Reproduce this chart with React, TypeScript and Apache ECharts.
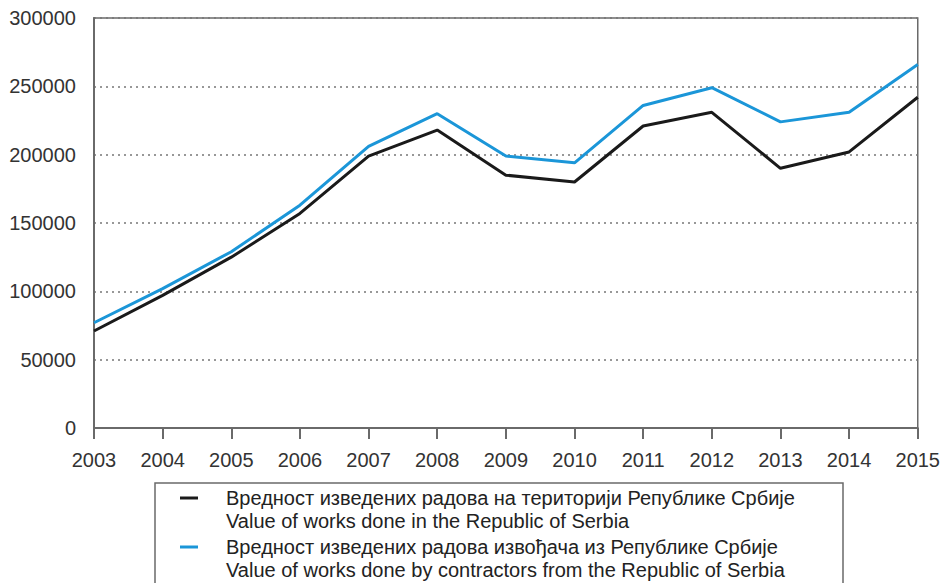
import React, { useEffect, useRef } from "react";
import * as echarts from "echarts";

const years = ["2003","2004","2005","2006","2007","2008","2009","2010","2011","2012","2013","2014","2015"];
const territoryValues = [71000, 97000, 125000, 157000, 199000, 218000, 185000, 180000, 221000, 231000, 190000, 202000, 242000];
const contractorValues = [77000, 102000, 129000, 163000, 206000, 230000, 199000, 194000, 236000, 249000, 224000, 231000, 266000];
const seriesNamesSr = [
  "Вредност изведених радова на територији Републике Србије",
  "Вредност изведених радова извођача из Републике Србије",
];
const seriesNamesEn = [
  "Value of works done in the Republic of Serbia",
  "Value of works done by contractors from the Republic of Serbia",
];
const seriesColors = ["#1a1a1a", "#1b96d8"];

const FONT = "'Liberation Sans', Arial, Helvetica, sans-serif";

export default function App() {
  const ref = useRef<HTMLDivElement>(null);
  useEffect(() => {
    if (!ref.current) return;
    const chart = echarts.init(ref.current, undefined, { renderer: "svg" });
    const legendTexts: any[] = [];
    const lineY = [498, 521, 547, 570];
    [0, 1].forEach((i) => {
      legendTexts.push({
        type: "rect",
        shape: { x: 180, y: lineY[i * 2] - 1.5, width: 18, height: 3 },
        style: { fill: seriesColors[i] },
      });
      legendTexts.push({
        type: "text",
        x: 226,
        y: lineY[i * 2],
        style: { text: seriesNamesSr[i], font: `20px ${FONT}`, fill: "#222", verticalAlign: "middle" },
      });
      legendTexts.push({
        type: "text",
        x: 226,
        y: lineY[i * 2 + 1],
        style: { text: seriesNamesEn[i], font: `20px ${FONT}`, fill: "#222", verticalAlign: "middle" },
      });
    });
    chart.setOption({
      animation: false,
      backgroundColor: "#fff",
      grid: {
        left: 94,
        right: 24,
        top: 18,
        bottom: 155,
        show: true,
        borderColor: "#6a6a6a",
        borderWidth: 1.5,
      },
      xAxis: {
        type: "category",
        data: years,
        boundaryGap: false,
        axisLine: { lineStyle: { color: "#6a6a6a", width: 2 } },
        axisTick: { show: true, length: 11, lineStyle: { color: "#6a6a6a", width: 2 } },
        axisLabel: { color: "#333", fontSize: 20, fontFamily: FONT, margin: 22 },
        splitLine: { show: false },
      },
      yAxis: {
        type: "value",
        min: 0,
        max: 300000,
        interval: 50000,
        axisLine: { show: true, lineStyle: { color: "#6a6a6a", width: 2 } },
        axisTick: { show: false },
        axisLabel: {
          color: "#333",
          fontSize: 20,
          fontFamily: FONT,
          margin: 18,
          formatter: (v: number) => String(v),
        },
        splitLine: { show: true, lineStyle: { color: "#777", type: [2, 4], width: 1.5 } },
      },
      series: [
        {
          name: seriesNamesEn[0],
          type: "line",
          data: territoryValues,
          symbol: "none",
          lineStyle: { color: seriesColors[0], width: 3 },
          z: 3,
        },
        {
          name: seriesNamesEn[1],
          type: "line",
          data: contractorValues,
          symbol: "none",
          lineStyle: { color: seriesColors[1], width: 3 },
          z: 2,
        },
      ],
      graphic: [
        {
          type: "rect",
          shape: { x: 155, y: 483, width: 688, height: 120 },
          style: { fill: "none", stroke: "#6a6a6a", lineWidth: 1.5 },
        },
        ...legendTexts,
      ],
    });
    return () => chart.dispose();
  }, []);
  return (
    <div
      ref={ref}
      style={{ position: "absolute", left: 0, top: 0, width: 943, height: 583, overflow: "hidden" }}
    />
  );
}
